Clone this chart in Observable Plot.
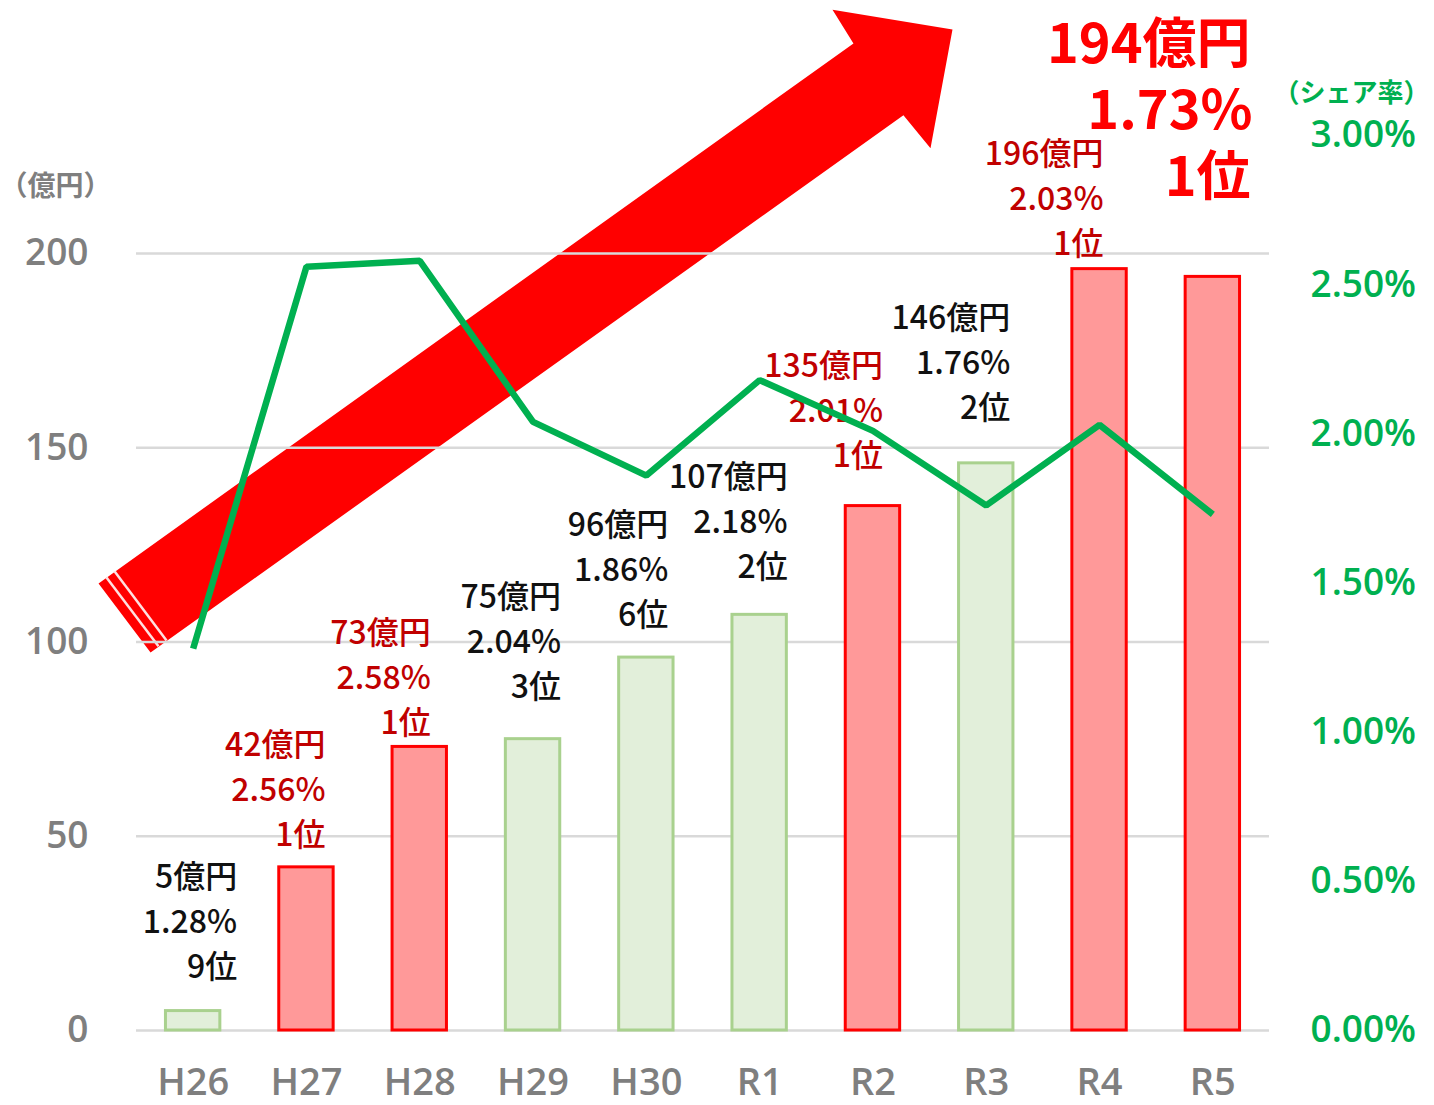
<!DOCTYPE html>
<html>
<head>
<meta charset="utf-8">
<script src="https://cdn.jsdelivr.net/npm/d3@7"></script>
<script src="https://cdn.jsdelivr.net/npm/@observablehq/plot@0.6"></script>
<style>
  html, body { margin: 0; padding: 0; background: #fff; }
  #chart svg { display: block; overflow: visible; }
</style>
</head>
<body>
<div id="chart"></div>
<script>
// ---- data ----
const years   = ["H26","H27","H28","H29","H30","R1","R2","R3","R4","R5"];
const amounts = [5, 42, 73, 75, 96, 107, 135, 146, 196, 194];          // 億円
const shares  = [1.28, 2.56, 2.58, 2.04, 1.86, 2.18, 2.01, 1.76, 2.03, 1.73]; // %
const ranks   = [9, 1, 1, 3, 6, 2, 1, 2, 1, 1];                        // 位
const amountTicks = [0, 50, 100, 150, 200];
const shareTicks  = [0, 0.5, 1, 1.5, 2, 2.5, 3];

// ---- layout (pixels) ----
const W = 1434, H = 1105;
const mL = 136, mR = 165, mT = 135, mB = 75;
const yMax = 230.4;                 // left axis top (matches 3.00% on right)
const shareMax = 3;
const pxX = (W - mL - mR) / years.length;
const pxY = (H - mT - mB) / yMax;
const s2y = s => s * yMax / shareMax;

// label block offsets: right edge from bar centre, gap from bar top to last line
const labelDx  = [44, 19, 11, 28, 22, 28, 10, 24, 4];
const labelGap = [43, 32, 23, 51, 42, 47, 49, 55, 24];
const lineStep = 45;

// decorative arrow outline (in chart coordinates: x index, y 億円)
const arrowShape = [
  {x: -0.835, y: 115.1}, {x: 5.828, y: 254.1}, {x: 5.643, y: 262.8},
  {x: 6.702, y: 257.7}, {x: 6.508, y: 227.1}, {x: 6.269, y: 235.6},
  {x: -0.376, y: 97.3}
];
const arrowStripes = [
  {x1: -0.765, y1: 116.6, x2: -0.306, y2: 98.9},
  {x1: -0.694, y1: 118.2, x2: -0.235, y2: 100.4}
];

const rows = years.map((yr, i) => ({
  i, yr, amount: amounts[i], share: shares[i], rank: ranks[i],
  top: ranks[i] === 1
}));
const labelRows = rows.slice(0, labelDx.length).map((d, k) => ({
  ...d,
  lx: d.i + labelDx[k] / pxX,
  ly: d.amount + labelGap[k] / pxY
}));

const labelFont = "'Noto Sans CJK JP', 'Noto Sans', sans-serif";
const tickFont = "'Open Sans', 'DejaVu Sans', sans-serif";
const labelColor = d => d.top ? "#c00000" : "#111111";
const last = rows[rows.length - 1];

const textCommon = {
  fontFamily: labelFont, fontSize: 32, fontWeight: 500, textAnchor: "end", fill: labelColor
};
const callout = {
  text: d => d, frameAnchor: "top-right", textAnchor: "end", lineAnchor: "middle",
  fontFamily: labelFont, fontSize: 54, fontWeight: "bold", fill: "#ff0000"
};

const chart = Plot.plot({
  width: W, height: H,
  marginLeft: mL, marginRight: mR, marginTop: mT, marginBottom: mB,
  x: {type: "linear", domain: [-0.5, years.length - 0.5], axis: null},
  y: {type: "linear", domain: [0, yMax], axis: null},
  style: {background: "#ffffff", overflow: "visible"},
  marks: [
    // arrow
    Plot.line(arrowShape, {x: "x", y: "y", fill: "#ff0000", stroke: "none", curve: "linear-closed"}),
    Plot.link(arrowStripes, {x1: "x1", y1: "y1", x2: "x2", y2: "y2", stroke: "#ffe0e0", strokeWidth: 2.5}),
    // grid
    Plot.ruleY(amountTicks, {stroke: "#d9d9d9", strokeWidth: 2.5}),
    // bars
    Plot.rect(rows, {
      x1: d => d.i - 0.24, x2: d => d.i + 0.24, y1: 0, y2: "amount",
      fill: d => d.top ? "#ff9999" : "#e2efda",
      stroke: d => d.top ? "#ff0000" : "#a9d18e",
      strokeWidth: 3
    }),
    // bar labels
    Plot.text(labelRows, {...textCommon, x: "lx", y: "ly", dy: -2 * lineStep, text: d => `${d.amount}億円`}),
    Plot.text(labelRows, {...textCommon, x: "lx", y: "ly", dy: -lineStep, text: d => `${d.share.toFixed(2)}%`}),
    Plot.text(labelRows, {...textCommon, x: "lx", y: "ly", dy: 0, text: d => `${d.rank}位`}),
    // share line
    Plot.line(rows, {x: "i", y: d => s2y(d.share), stroke: "#00b050", strokeWidth: 6.5, strokeLinejoin: "miter", strokeLinecap: "butt"}),
    // axes
    Plot.axisY(amountTicks, {
      anchor: "left", tickSize: 0, tickPadding: 48, label: null,
      fontFamily: tickFont, fontSize: 37, fontWeight: 600, color: "#7f7f7f", fill: "#7f7f7f"
    }),
    Plot.axisY(shareTicks.map(s2y), {
      anchor: "right", tickSize: 0, tickPadding: 41, label: null,
      tickFormat: (d, i) => `${shareTicks[i].toFixed(2)}%`,
      fontFamily: tickFont, fontSize: 37, fontWeight: 600, color: "#00b050", fill: "#00b050"
    }),
    Plot.axisX(d3.range(years.length), {
      anchor: "bottom", tickSize: 0, tickPadding: 38, label: null,
      tickFormat: i => years[i],
      fontFamily: tickFont, fontSize: 38, fontWeight: 600, color: "#7f7f7f", fill: "#7f7f7f"
    }),
    // unit labels
    Plot.text(["（億円）"], {
      text: d => d, frameAnchor: "top-left", dx: -137, dy: 52, textAnchor: "start", lineAnchor: "middle",
      fontFamily: labelFont, fontSize: 28, fontWeight: "bold", fill: "#7f7f7f"
    }),
    Plot.text(["（シェア率）"], {
      text: d => d, frameAnchor: "top-right", dx: 4, dy: -42, textAnchor: "start", lineAnchor: "middle",
      fontFamily: labelFont, fontSize: 26, fontWeight: "bold", fill: "#00b050"
    }),
    // latest-year callout
    Plot.text([`${last.amount}億円`], {...callout, dx: -19, dy: -90}),
    Plot.text([`${last.share.toFixed(2)}%`], {...callout, dx: -17, dy: -24}),
    Plot.text([`${last.rank}位`], {...callout, dx: -19, dy: 43})
  ]
});
document.getElementById("chart").appendChild(chart);
</script>
</body>
</html>
